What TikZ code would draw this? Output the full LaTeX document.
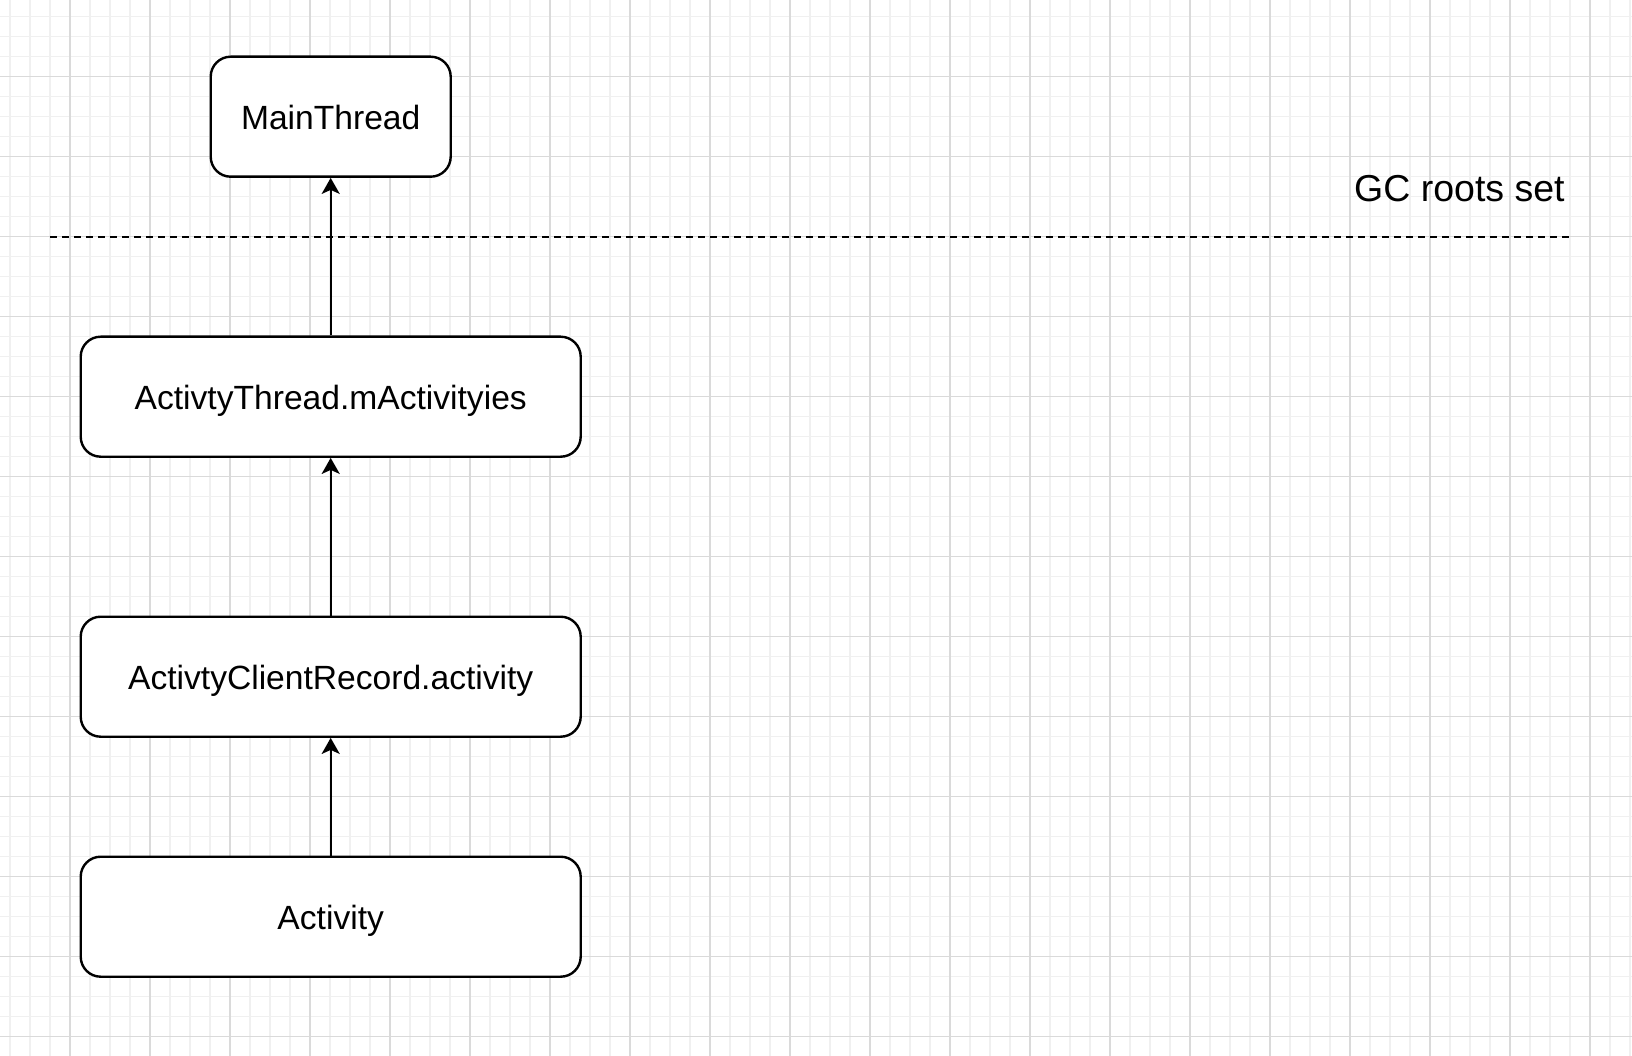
\documentclass[tikz,border=0pt]{standalone}
\usepackage{fontspec}
\setmainfont{Liberation Sans}
\usetikzlibrary{arrows.meta}
\definecolor{gridminor}{HTML}{F0F0F0}
\definecolor{gridmajor}{HTML}{DADADA}
\tikzset{
  objbox/.style={draw=black, line width=2.4pt, rounded corners=20pt, fill=white,
    minimum height=120pt, inner sep=0pt, text height=26pt, text depth=0pt,
    font=\fontsize{33.6}{40}\selectfont},
  narrowbox/.style={objbox, minimum width=240pt},
  widebox/.style={objbox, minimum width=500pt},
  refarrow/.style={line width=2.4pt, -{Stealth[length=16pt,width=18pt,inset=4pt]}},
  rootline/.style={line width=2pt, dash pattern=on 7pt off 5pt},
}
\begin{document}
\begin{tikzpicture}[x=1pt,y=-1pt]
\useasboundingbox (0,0) rectangle (1632,1056);
\fill[white] (0,0) rectangle (1632,1056);
% minor grid
\foreach \gx in {10,30,...,1630} \draw[gridminor, line width=1.2pt] (\gx,0) -- (\gx,1056);
\foreach \gy in {16.7,36.7,...,1056} \draw[gridminor, line width=1.2pt] (0,\gy) -- (1632,\gy);
% major grid
\foreach \gx in {70,150,...,1630} \draw[gridmajor, line width=1.1pt] (\gx,0) -- (\gx,1056);
\foreach \gy in {76.7,156.7,...,1056} \draw[gridmajor, line width=1.1pt] (0,\gy) -- (1632,\gy);

\node[narrowbox] (main) at (330.7,116.7) {MainThread};
\node[widebox] (atm) at (330.7,396.7) {ActivtyThread.mActivityies};
\node[widebox] (acr) at (330.7,676.7) {ActivtyClientRecord.activity};
\node[widebox] (act) at (330.7,916.7) {Activity};

\coordinate (dl) at (50,236.7);
\coordinate (dr) at (1570,236.7);
\draw[rootline] (dl) -- (dr);

\draw[refarrow] (atm.north) -- (main.south);
\draw[refarrow] (acr.north) -- (atm.south);
\draw[refarrow] (act.north) -- (acr.south);

\node[anchor=base west, inner sep=0pt, font=\fontsize{37.5}{45}\selectfont] (gc) at (1354,201.7) {GC roots set};
\end{tikzpicture}
\end{document}
